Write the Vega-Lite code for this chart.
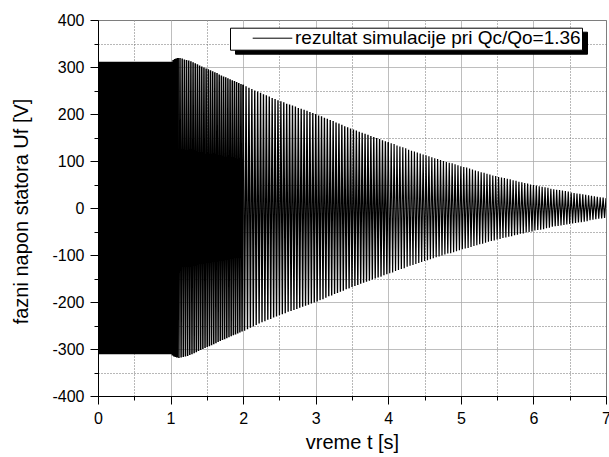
{
"$schema":"https://vega.github.io/schema/vega-lite/v6.json",
"width":508,"height":376,
"autosize":{"type":"none"},
"padding":{"left":98,"top":20,"right":3,"bottom":61},
"background":"white",
"data":{"values":[
{"t":0,"u":311},{"t":0.01,"u":-311},{"t":0.02,"u":311},{"t":0.03,"u":-311},{"t":0.04,"u":311},{"t":0.05,"u":-311},{"t":0.06,"u":311},{"t":0.07,"u":-311},{"t":0.08,"u":311},{"t":0.09,"u":-311},
{"t":0.1,"u":311},{"t":0.11,"u":-311},{"t":0.12,"u":311},{"t":0.13,"u":-311},{"t":0.14,"u":311},{"t":0.15,"u":-311},{"t":0.16,"u":311},{"t":0.17,"u":-311},{"t":0.18,"u":311},{"t":0.19,"u":-311},
{"t":0.2,"u":311},{"t":0.21,"u":-311},{"t":0.22,"u":311},{"t":0.23,"u":-311},{"t":0.24,"u":311},{"t":0.25,"u":-311},{"t":0.26,"u":311},{"t":0.27,"u":-311},{"t":0.28,"u":311},{"t":0.29,"u":-311},
{"t":0.3,"u":311},{"t":0.31,"u":-311},{"t":0.32,"u":311},{"t":0.33,"u":-311},{"t":0.34,"u":311},{"t":0.35,"u":-311},{"t":0.36,"u":311},{"t":0.37,"u":-311},{"t":0.38,"u":311},{"t":0.39,"u":-311},
{"t":0.4,"u":311},{"t":0.41,"u":-311},{"t":0.42,"u":311},{"t":0.43,"u":-311},{"t":0.44,"u":311},{"t":0.45,"u":-311},{"t":0.46,"u":311},{"t":0.47,"u":-311},{"t":0.48,"u":311},{"t":0.49,"u":-311},
{"t":0.5,"u":311},{"t":0.51,"u":-311},{"t":0.52,"u":311},{"t":0.53,"u":-311},{"t":0.54,"u":311},{"t":0.55,"u":-311},{"t":0.56,"u":311},{"t":0.57,"u":-311},{"t":0.58,"u":311},{"t":0.59,"u":-311},
{"t":0.6,"u":311},{"t":0.61,"u":-311},{"t":0.62,"u":311},{"t":0.63,"u":-311},{"t":0.64,"u":311},{"t":0.65,"u":-311},{"t":0.66,"u":311},{"t":0.67,"u":-311},{"t":0.68,"u":311},{"t":0.69,"u":-311},
{"t":0.7,"u":311},{"t":0.71,"u":-311},{"t":0.72,"u":311},{"t":0.73,"u":-311},{"t":0.74,"u":311},{"t":0.75,"u":-311},{"t":0.76,"u":311},{"t":0.77,"u":-311},{"t":0.78,"u":311},{"t":0.79,"u":-311},
{"t":0.8,"u":311},{"t":0.81,"u":-311},{"t":0.82,"u":311},{"t":0.83,"u":-311},{"t":0.84,"u":311},{"t":0.85,"u":-311},{"t":0.86,"u":311},{"t":0.87,"u":-311},{"t":0.88,"u":311},{"t":0.89,"u":-311},
{"t":0.9,"u":311},{"t":0.91,"u":-311},{"t":0.92,"u":311},{"t":0.93,"u":-311},{"t":0.94,"u":311},{"t":0.95,"u":-311},{"t":0.96,"u":311},{"t":0.97,"u":-311},{"t":0.98,"u":311},{"t":0.99,"u":-311},
{"t":1,"u":311},{"t":1.01,"u":-311},{"t":1.02,"u":311},{"t":1.03,"u":-314},{"t":1.04,"u":315},{"t":1.05,"u":-316},{"t":1.06,"u":317},{"t":1.07,"u":-317},{"t":1.08,"u":318},{"t":1.09,"u":-318},
{"t":1.1,"u":319},{"t":1.115,"u":-319},{"t":1.13,"u":319},{"t":1.145,"u":-318},{"t":1.16,"u":318},{"t":1.175,"u":-317},{"t":1.19,"u":316},{"t":1.205,"u":-316},{"t":1.22,"u":315},{"t":1.235,"u":-315},
{"t":1.25,"u":314},{"t":1.265,"u":-313},{"t":1.28,"u":312},{"t":1.295,"u":-311},{"t":1.31,"u":310},{"t":1.325,"u":-309},{"t":1.34,"u":308},{"t":1.355,"u":-307},{"t":1.37,"u":306},{"t":1.385,"u":-304},
{"t":1.4,"u":303},{"t":1.415,"u":-302},{"t":1.43,"u":301},{"t":1.445,"u":-300},{"t":1.46,"u":299},{"t":1.475,"u":-298},{"t":1.49,"u":297},{"t":1.505,"u":-296},{"t":1.52,"u":295},{"t":1.535,"u":-294},
{"t":1.55,"u":293},{"t":1.565,"u":-292},{"t":1.58,"u":291},{"t":1.595,"u":-290},{"t":1.61,"u":289},{"t":1.625,"u":-288},{"t":1.64,"u":287},{"t":1.655,"u":-285},{"t":1.67,"u":284},{"t":1.685,"u":-283},
{"t":1.7,"u":282},{"t":1.715,"u":-281},{"t":1.73,"u":280},{"t":1.745,"u":-279},{"t":1.76,"u":278},{"t":1.775,"u":-277},{"t":1.79,"u":276},{"t":1.805,"u":-275},{"t":1.82,"u":274},{"t":1.835,"u":-273},
{"t":1.85,"u":272},{"t":1.865,"u":-271},{"t":1.88,"u":270},{"t":1.895,"u":-269},{"t":1.91,"u":268},{"t":1.925,"u":-267},{"t":1.94,"u":266},{"t":1.955,"u":-265},{"t":1.97,"u":264},{"t":1.985,"u":-263},
{"t":2,"u":262},{"t":2.02,"u":-261},{"t":2.04,"u":259},{"t":2.06,"u":-258},{"t":2.08,"u":256},{"t":2.1,"u":-255},{"t":2.12,"u":253},{"t":2.14,"u":-252},{"t":2.16,"u":250},{"t":2.18,"u":-249},
{"t":2.2,"u":248},{"t":2.22,"u":-246},{"t":2.24,"u":245},{"t":2.26,"u":-243},{"t":2.28,"u":242},{"t":2.3,"u":-241},{"t":2.32,"u":240},{"t":2.34,"u":-238},{"t":2.36,"u":237},{"t":2.38,"u":-236},
{"t":2.4,"u":234},{"t":2.42,"u":-233},{"t":2.44,"u":232},{"t":2.46,"u":-231},{"t":2.48,"u":229},{"t":2.5,"u":-228},{"t":2.52,"u":227},{"t":2.54,"u":-226},{"t":2.56,"u":225},{"t":2.58,"u":-224},
{"t":2.6,"u":222},{"t":2.62,"u":-221},{"t":2.64,"u":220},{"t":2.66,"u":-219},{"t":2.68,"u":218},{"t":2.7,"u":-217},{"t":2.72,"u":216},{"t":2.74,"u":-215},{"t":2.76,"u":213},{"t":2.78,"u":-212},
{"t":2.8,"u":211},{"t":2.82,"u":-210},{"t":2.84,"u":209},{"t":2.86,"u":-208},{"t":2.88,"u":207},{"t":2.9,"u":-206},{"t":2.92,"u":204},{"t":2.94,"u":-203},{"t":2.96,"u":202},{"t":2.98,"u":-201},
{"t":3,"u":200},{"t":3.02,"u":-199},{"t":3.04,"u":197},{"t":3.06,"u":-196},{"t":3.08,"u":195},{"t":3.1,"u":-194},{"t":3.12,"u":192},{"t":3.14,"u":-191},{"t":3.16,"u":190},{"t":3.18,"u":-188},
{"t":3.2,"u":187},{"t":3.22,"u":-186},{"t":3.24,"u":185},{"t":3.26,"u":-183},{"t":3.28,"u":182},{"t":3.3,"u":-181},{"t":3.32,"u":180},{"t":3.34,"u":-178},{"t":3.36,"u":177},{"t":3.38,"u":-176},
{"t":3.4,"u":174},{"t":3.42,"u":-173},{"t":3.44,"u":172},{"t":3.46,"u":-171},{"t":3.48,"u":169},{"t":3.5,"u":-168},{"t":3.52,"u":167},{"t":3.54,"u":-166},{"t":3.56,"u":165},{"t":3.58,"u":-164},
{"t":3.6,"u":162},{"t":3.62,"u":-161},{"t":3.64,"u":160},{"t":3.66,"u":-159},{"t":3.68,"u":158},{"t":3.7,"u":-157},{"t":3.72,"u":156},{"t":3.74,"u":-155},{"t":3.76,"u":153},{"t":3.78,"u":-152},
{"t":3.8,"u":151},{"t":3.82,"u":-150},{"t":3.84,"u":149},{"t":3.86,"u":-148},{"t":3.88,"u":147},{"t":3.9,"u":-146},{"t":3.92,"u":144},{"t":3.94,"u":-143},{"t":3.96,"u":142},{"t":3.98,"u":-141},
{"t":4,"u":140},{"t":4.02,"u":-139},{"t":4.04,"u":138},{"t":4.06,"u":-137},{"t":4.08,"u":136},{"t":4.1,"u":-134},{"t":4.12,"u":133},{"t":4.14,"u":-132},{"t":4.16,"u":131},{"t":4.18,"u":-130},
{"t":4.2,"u":129},{"t":4.22,"u":-128},{"t":4.24,"u":127},{"t":4.26,"u":-125},{"t":4.28,"u":124},{"t":4.3,"u":-123},{"t":4.32,"u":122},{"t":4.34,"u":-121},{"t":4.36,"u":120},{"t":4.38,"u":-119},
{"t":4.4,"u":118},{"t":4.42,"u":-117},{"t":4.44,"u":116},{"t":4.46,"u":-115},{"t":4.48,"u":114},{"t":4.5,"u":-113},{"t":4.52,"u":112},{"t":4.54,"u":-111},{"t":4.56,"u":110},{"t":4.58,"u":-109},
{"t":4.6,"u":108},{"t":4.62,"u":-107},{"t":4.64,"u":106},{"t":4.66,"u":-105},{"t":4.68,"u":104},{"t":4.7,"u":-103},{"t":4.72,"u":102},{"t":4.74,"u":-101},{"t":4.76,"u":100},{"t":4.78,"u":-99},
{"t":4.8,"u":98},{"t":4.82,"u":-97},{"t":4.84,"u":96},{"t":4.86,"u":-96},{"t":4.88,"u":95},{"t":4.9,"u":-94},{"t":4.92,"u":93},{"t":4.94,"u":-92},{"t":4.96,"u":91},{"t":4.98,"u":-90},
{"t":5,"u":89},{"t":5.02,"u":-88},{"t":5.04,"u":87},{"t":5.06,"u":-86},{"t":5.08,"u":86},{"t":5.1,"u":-85},{"t":5.12,"u":84},{"t":5.14,"u":-83},{"t":5.16,"u":82},{"t":5.18,"u":-81},
{"t":5.2,"u":80},{"t":5.22,"u":-79},{"t":5.24,"u":78},{"t":5.26,"u":-77},{"t":5.28,"u":76},{"t":5.3,"u":-76},{"t":5.32,"u":75},{"t":5.34,"u":-74},{"t":5.36,"u":73},{"t":5.38,"u":-72},
{"t":5.4,"u":71},{"t":5.42,"u":-70},{"t":5.44,"u":69},{"t":5.46,"u":-69},{"t":5.48,"u":68},{"t":5.5,"u":-67},{"t":5.52,"u":66},{"t":5.54,"u":-66},{"t":5.56,"u":65},{"t":5.58,"u":-64},
{"t":5.6,"u":64},{"t":5.62,"u":-63},{"t":5.64,"u":62},{"t":5.66,"u":-61},{"t":5.68,"u":61},{"t":5.7,"u":-60},{"t":5.72,"u":59},{"t":5.74,"u":-58},{"t":5.76,"u":58},{"t":5.78,"u":-57},
{"t":5.8,"u":56},{"t":5.82,"u":-55},{"t":5.84,"u":55},{"t":5.86,"u":-54},{"t":5.88,"u":53},{"t":5.9,"u":-52},{"t":5.92,"u":52},{"t":5.94,"u":-51},{"t":5.96,"u":50},{"t":5.98,"u":-50},
{"t":6,"u":49},{"t":6.02,"u":-48},{"t":6.04,"u":48},{"t":6.06,"u":-47},{"t":6.08,"u":46},{"t":6.1,"u":-46},{"t":6.12,"u":45},{"t":6.14,"u":-45},{"t":6.16,"u":44},{"t":6.18,"u":-43},
{"t":6.2,"u":43},{"t":6.22,"u":-42},{"t":6.24,"u":41},{"t":6.26,"u":-40},{"t":6.28,"u":40},{"t":6.3,"u":-39},{"t":6.32,"u":39},{"t":6.34,"u":-38},{"t":6.36,"u":38},{"t":6.38,"u":-37},
{"t":6.4,"u":37},{"t":6.42,"u":-36},{"t":6.44,"u":36},{"t":6.46,"u":-35},{"t":6.48,"u":35},{"t":6.5,"u":-34},{"t":6.52,"u":33},{"t":6.54,"u":-33},{"t":6.56,"u":32},{"t":6.58,"u":-32},
{"t":6.6,"u":31},{"t":6.62,"u":-31},{"t":6.64,"u":30},{"t":6.66,"u":-30},{"t":6.68,"u":29},{"t":6.7,"u":-29},{"t":6.72,"u":28},{"t":6.74,"u":-28},{"t":6.76,"u":27},{"t":6.78,"u":-26},
{"t":6.8,"u":26},{"t":6.82,"u":-25},{"t":6.84,"u":25},{"t":6.86,"u":-24},{"t":6.88,"u":24},{"t":6.9,"u":-23},{"t":6.92,"u":23},{"t":6.94,"u":-22},{"t":6.96,"u":22},{"t":6.98,"u":-21},
{"t":7,"u":21}
]},
"encoding":{
  "x":{"field":"t","type":"quantitative","scale":{"domain":[0,7],"nice":false,"zero":false},
   "axis":{"title":"vreme t [s]","values":[0,0.5,1,1.5,2,2.5,3,3.5,4,4.5,5,5.5,6,6.5,7],
    "labelExpr":"datum.value % 1 === 0 ? '' + datum.value : ''",
    "labelFlush":false,"labelOverlap":false,"labelFontSize":16,"labelColor":"black","labelPadding":6,
    "tickColor":"black","tickSize":{"condition":{"test":"datum.value % 1 !== 0","value":4},"value":8},
    "domainColor":"black","grid":true,
    "gridColor":{"condition":{"test":"datum.value % 1 !== 0","value":"#707070"},"value":"#a8a8a8"},
    "gridDash":{"condition":{"test":"datum.value % 1 !== 0","value":[1,2]},"value":[1,0]},
    "titleFontSize":20,"titleFontWeight":"normal","titleColor":"black","titleX":254,"titleY":52,"titleBaseline":"alphabetic","titleAlign":"center"}},
  "y":{"field":"u","type":"quantitative","scale":{"domain":[-400,400],"nice":false},
   "axis":{"title":"fazni napon statora Uf [V]","values":[-400,-350,-300,-250,-200,-150,-100,-50,0,50,100,150,200,250,300,350,400],
    "labelExpr":"datum.value % 100 === 0 ? '' + datum.value : ''",
    "labelFlush":false,"labelOverlap":false,"labelFontSize":16,"labelColor":"black","labelPadding":6,
    "tickColor":"black","tickSize":{"condition":{"test":"datum.value % 100 !== 0","value":4},"value":8},
    "domainColor":"black","grid":true,
    "gridColor":{"condition":{"test":"datum.value % 100 !== 0","value":"#707070"},"value":"#a8a8a8"},
    "gridDash":{"condition":{"test":"datum.value % 100 !== 0","value":[1,2]},"value":[1,0]},
    "titleFontSize":20,"titleFontWeight":"normal","titleColor":"black","titleX":-70.5,"titleY":191,"titleAngle":270,"titleBaseline":"alphabetic","titleAlign":"center"}}
},
"layer":[
{"transform":[{"filter":"datum.t <= 1.1"}],
 "mark":{"type":"line","strokeWidth":2.2,"clip":true},
 "encoding":{
  "color":{"datum":"rezultat simulacije pri Qc/Qo=1.36","type":"nominal","scale":{"range":["black"]},
   "legend":{"orient":"none","legendX":132,"legendY":7.7,"zindex":2,"title":null,"fillColor":"white","strokeColor":"black","padding":1,
    "symbolType":"M-2.2,0H2.2","symbolSize":324,"symbolStrokeWidth":1,"symbolStrokeColor":"black","symbolOffset":32,"labelOffset":13,
    "labelFontSize":19,"labelColor":"black","labelLimit":0,"labelExpr":"'rezultat simulacije pri Qc/Qo=1.36\u00a0\u00a0\u00a0'"}}
 }},
{"transform":[{"filter":"datum.t >= 1.1 && datum.t <= 2"}],
 "mark":{"type":"line","strokeWidth":1.5,"clip":true,"color":"black"},
 "encoding":{}},
{"transform":[{"filter":"datum.t >= 2 && datum.t <= 4"}],
 "mark":{"type":"line","strokeWidth":1.35,"clip":true,"color":"black"},
 "encoding":{}},
{"transform":[{"filter":"datum.t >= 4"}],
 "mark":{"type":"line","strokeWidth":1.2,"clip":true,"color":"black"},
 "encoding":{}},
{"transform":[{"filter":"datum.t === 0"}],
 "mark":{"type":"point","opacity":0,"filled":true},
 "encoding":{
  "fill":{"datum":"sjena","type":"nominal","scale":{"range":["black"]},
   "legend":{"orient":"none","legendX":137,"legendY":11.7,"zindex":1,"title":null,"fillColor":"black","strokeColor":"black","padding":1,
    "symbolType":"M-2.2,0H2.2","symbolSize":324,"symbolStrokeWidth":1,"symbolOffset":32,"labelOffset":13,
    "labelFontSize":19,"labelColor":"black","labelLimit":0,"labelExpr":"'rezultat simulacije pri Qc/Qo=1.36\u00a0\u00a0\u00a0'"}}
 }}
],
"config":{"font":"Liberation Sans","view":{"stroke":"black","strokeWidth":1},"axis":{"domainWidth":1,"tickWidth":1}}
}
